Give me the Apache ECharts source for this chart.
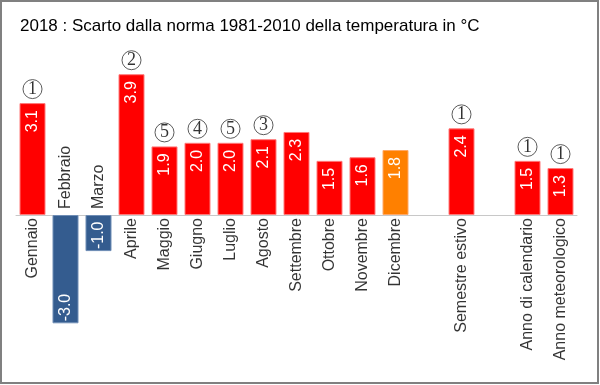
<!DOCTYPE html>
<html><head><meta charset="utf-8">
<script src="https://cdn.jsdelivr.net/npm/echarts@6/dist/echarts.min.js"></script>
<style>html,body{margin:0;padding:0;background:#fff}#c{width:600px;height:385px}</style>
</head><body><div id="c"></div>
<script>
const titleText = '2018 : Scarto dalla norma 1981-2010 della temperatura in °C';
const categories = ['Gennaio','Febbraio','Marzo','Aprile','Maggio','Giugno','Luglio','Agosto','Settembre','Ottobre','Novembre','Dicembre','','Semestre estivo','','Anno di calendario','Anno meteorologico'];
const values = [3.1,-3.0,-1.0,3.9,1.9,2.0,2.0,2.1,2.3,1.5,1.6,1.8,null,2.4,null,1.5,1.3];
const ranks = [1,null,null,2,5,4,5,3,null,null,null,null,null,1,null,1,1];
const highlighted = 'Dicembre';

const FONT = 'Liberation Sans, Arial, sans-serif';
function colorFor(i){
  if (values[i] < 0) return {c:'#345C8F', b:'#6F8DB5'};
  if (categories[i] === highlighted) return {c:'#FF8000', b:'#FFA866'};
  return {c:'#FF0000', b:'#FF7A7A'};
}
const barData = values.map((v,i)=>{
  if (v === null) return '-';
  const col = colorFor(i);
  return {
    value: v,
    itemStyle: {color: col.c, borderColor: col.b, borderWidth: 1},
    label: {
      position: v < 0 ? 'insideBottom' : 'insideTop',
      align: v < 0 ? 'left' : 'right',
      distance: v < 0 ? 2 : 7
    }
  };
});
const rankData = [];
ranks.forEach((r,i)=>{ if (r !== null) rankData.push({value:[i, values[i]], rank:r}); });
const catLabelData = [];
values.forEach((v,i)=>{
  if (v === null) return;
  const neg = v < 0;
  catLabelData.push({value:[i, 0], name: categories[i],
    label: {position: neg ? 'top' : 'bottom', align: neg ? 'left' : 'right', distance: neg ? 6 : 3}});
});

const chart = echarts.init(document.getElementById('c'), null, {renderer:'canvas'});
chart.setOption({
  animation: false,
  backgroundColor: '#fff',
  title: {text: titleText, left: 15, top: 13, textStyle: {fontSize: 17, fontWeight: 'normal', color: '#000', fontFamily: FONT}},
  graphic: [{type:'rect', shape:{x:1, y:1, width:597, height:382}, style:{fill:'none', stroke:'#808080', lineWidth:2}, silent:true, z:100}],
  grid: {left: 16, width: 561, top: 70.6, height: 288.8, containLabel: false, outerBoundsMode: 'none'},
  xAxis: {
    type: 'category', data: categories,
    axisLine: {onZero: true, lineStyle: {color: '#C8C8C8', width: 1}},
    axisTick: {show: false},
    axisLabel: {show: false},
    splitLine: {show: false}
  },
  yAxis: {type: 'value', min: -4, max: 4, show: false},
  series: [
    {
      type: 'bar', data: barData, barWidth: 26,
      label: {show: true, rotate: 90, verticalAlign: 'middle', color: '#fff', fontSize: 16, fontFamily: FONT,
        formatter: p => p.value.toFixed(1)}
    },
    {
      type: 'scatter', data: rankData, symbolSize: 0, silent: true,
      label: {show: true, position: 'top', distance: 4,
        formatter: p => '{c|' + p.data.rank + '}',
        rich: {c: {width: 19, height: 19, lineHeight: 20, align: 'center', borderRadius: 10, borderWidth: 1, borderColor: '#333',
          fontFamily: 'Liberation Serif, Times New Roman, serif', fontSize: 18, color: '#000'}}}
    },
    {
      type: 'scatter', data: catLabelData, symbolSize: 0, silent: true,
      label: {show: true, rotate: 90, verticalAlign: 'middle',
        fontSize: 16, color: '#000', fontFamily: FONT, formatter: p => p.name}
    }
  ]
});
</script></body></html>
